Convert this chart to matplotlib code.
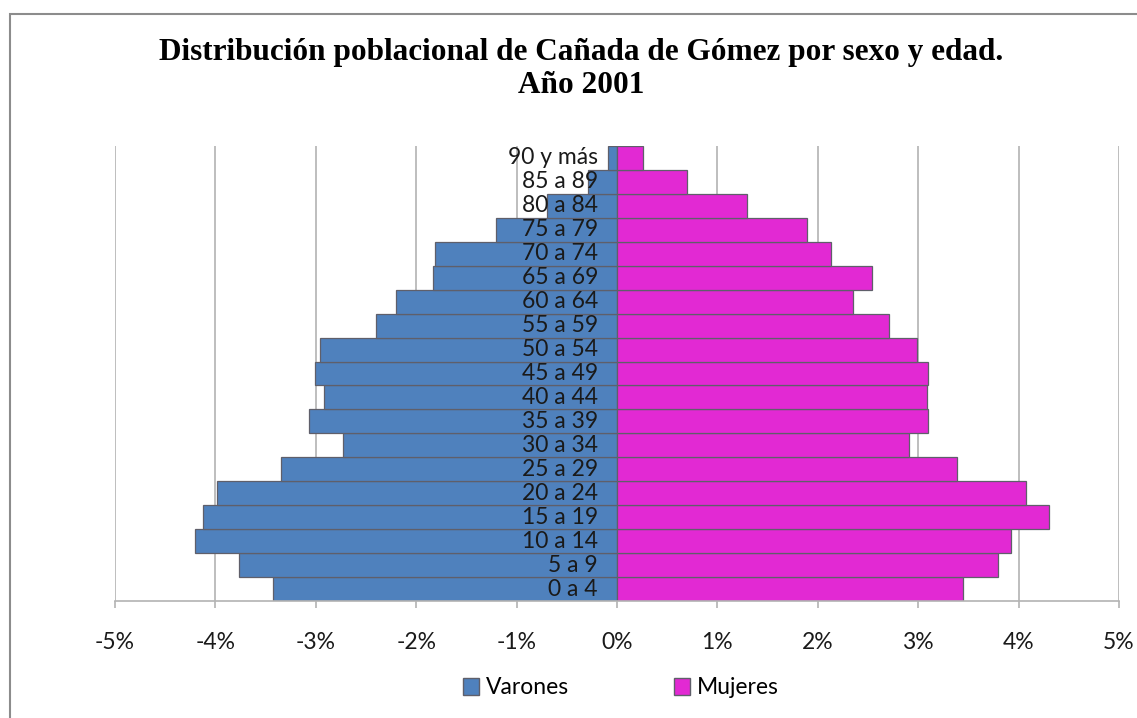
import numpy as np
import matplotlib
matplotlib.use('Agg')
import matplotlib.pyplot as plt
from matplotlib.patches import Patch, Rectangle
from matplotlib.ticker import FuncFormatter

# age groups, bottom to top
age_groups = ['0 a 4', '5 a 9', '10 a 14', '15 a 19', '20 a 24', '25 a 29',
              '30 a 34', '35 a 39', '40 a 44', '45 a 49', '50 a 54', '55 a 59',
              '60 a 64', '65 a 69', '70 a 74', '75 a 79', '80 a 84', '85 a 89',
              '90 y más']
# percent of total population
varones = [3.43, 3.76, 4.20, 4.12, 3.98, 3.35, 2.73, 3.07, 2.92, 3.01,
           2.96, 2.40, 2.20, 1.83, 1.81, 1.21, 0.70, 0.29, 0.09]
mujeres = [3.45, 3.79, 3.92, 4.30, 4.07, 3.39, 2.91, 3.10, 3.09, 3.10,
           2.99, 2.71, 2.35, 2.54, 2.13, 1.89, 1.29, 0.70, 0.26]
x_ticks = [-5, -4, -3, -2, -1, 0, 1, 2, 3, 4, 5]

blue = '#4F81BD'
pink = '#E229D3'
edge = '#5f5f6a'
grid_col = '#b3b3b3'
sans = ['Lato', 'DejaVu Sans']
fs = 16.5

fig = plt.figure(figsize=(11.37, 7.18), dpi=100)
ax = fig.add_axes([115 / 1137, 117 / 718, 1004 / 1137, 455 / 718])

y = np.arange(len(age_groups))
ax.barh(y, -np.array(varones), height=1.0, color=blue, edgecolor=edge, linewidth=0.9, zorder=2)
ax.barh(y, mujeres, height=1.0, color=pink, edgecolor=edge, linewidth=0.9, zorder=2)

for yi, lab in zip(y, age_groups):
    ax.text(-0.19, yi, lab, ha='right', va='center', fontsize=fs, family=sans,
            color='#1a1a1a', zorder=4)

ax.set_xlim(-5, 5)
ax.set_ylim(-0.5, len(age_groups) - 0.5)
ax.set_xticks(x_ticks)
ax.xaxis.set_major_formatter(FuncFormatter(lambda v, p: f'{v:.0f}%'))
ax.set_yticks([])
ax.grid(axis='x', color=grid_col, linewidth=1.2, zorder=0)
ax.set_axisbelow(True)
for s in ['top', 'right', 'left']:
    ax.spines[s].set_visible(False)
ax.spines['bottom'].set_color(grid_col)
ax.spines['bottom'].set_linewidth(1.2)
ax.tick_params(axis='x', direction='out', length=5, width=1.2, color=grid_col,
               pad=17, labelsize=fs, labelcolor='#1a1a1a')
for t in ax.get_xticklabels():
    t.set_family(sans)

fig.text(581 / 1137, 1 - 69 / 718,
         'Distribución poblacional de Cañada de Gómez por sexo y edad.\nAño 2001',
         ha='center', va='center', fontsize=22.5, fontweight='bold',
         family='Liberation Serif', linespacing=1.15)

handles = [Patch(facecolor=blue, edgecolor=edge, label='Varones'),
           Patch(facecolor=pink, edgecolor=edge, label='Mujeres')]
fig.legend(handles=handles, loc='center', bbox_to_anchor=(621 / 1137, 30 / 718),
           ncol=2, frameon=False, prop={'family': sans, 'size': fs},
           handlelength=0.7, handleheight=0.7, handletextpad=0.3,
           columnspacing=4.6)

# outer chart frame
fig.patches.append(Rectangle((10 / 1137, -0.05), 1.2, 1 - 14 / 718 + 0.05,
                             transform=fig.transFigure, fill=False,
                             edgecolor='#8c8c8c', linewidth=1.5))

fig.savefig('out.png', dpi=100)
